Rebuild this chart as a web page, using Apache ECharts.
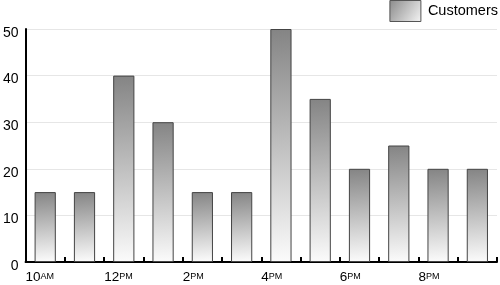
<!DOCTYPE html>
<html><head><meta charset="utf-8">
<script src="https://cdn.jsdelivr.net/npm/echarts@6/dist/echarts.min.js"></script>
<style>html,body{margin:0;padding:0;background:#fff}#c{width:500px;height:285px}</style>
</head><body><div id="c"></div>
<script>
var categories = ['10AM','11AM','12PM','1PM','2PM','3PM','4PM','5PM','6PM','7PM','8PM','9PM'];
var customers = [15,15,40,30,15,15,50,35,20,25,20,20];
var tickLabels = ['10|AM','','12|PM','','2|PM','','4|PM','','6|PM','','8|PM','',''];
var seriesName = 'Customers';

var grad = new echarts.graphic.LinearGradient(0,0,0.25,1,[
  {offset:0,color:'#848484'},{offset:1,color:'#fbfbfb'}]);
var chart = echarts.init(document.getElementById('c'), null, {renderer:'canvas'});
var font = 'Liberation Sans, Arial, Helvetica, sans-serif';
chart.setOption({
  animation:false,
  textStyle:{fontFamily:font},
  grid:{left:23,right:1,top:29,bottom:23},
  legend:{
    show:true, right:2, top:0, padding:0, itemWidth:31, itemHeight:21,
    icon:'rect',
    data:[seriesName],
    textStyle:{fontSize:14.5,color:'#000',fontFamily:font,padding:[5,0,0,2]},
    itemStyle:{color:new echarts.graphic.LinearGradient(0,0,1,1,[{offset:0,color:'#8a8a8a'},{offset:1,color:'#f5f5f5'}]),borderColor:'#555',borderWidth:1}
  },
  xAxis:[{
    type:'category', data:categories, boundaryGap:true,
    axisLine:{lineStyle:{color:'#000',width:2}},
    axisTick:{show:true,inside:true,length:5,interval:0,lineStyle:{color:'#000',width:2}},
    axisLabel:{show:false}, splitLine:{show:false}
  },{
    type:'category', data:tickLabels, boundaryGap:false, position:'bottom',
    axisLine:{show:false}, axisTick:{show:false}, splitLine:{show:false},
    axisLabel:{show:true, interval:0, align:'left', margin:8,
      formatter:function(v){ if(!v) return ''; var p=v.split('|'); return '{n|'+p[0]+'}{s|'+p[1]+'}'; },
      rich:{n:{fontSize:13.5,color:'#000',fontFamily:font},s:{fontSize:9,color:'#000',fontFamily:font}}}
  }],
  yAxis:{
    type:'value', min:0, max:50, interval:10,
    axisLine:{show:true,lineStyle:{color:'#000',width:2}},
    axisTick:{show:false},
    axisLabel:{fontSize:14,color:'#000',margin:7,fontFamily:font,verticalAlign:'top',lineHeight:8},
    splitLine:{show:true,lineStyle:{color:'#e6e6e6',width:1}}
  },
  series:[{
    name:seriesName, type:'bar', data:customers, xAxisIndex:0, barWidth:'54%',
    itemStyle:{color:grad,borderColor:'#444',borderWidth:1}
  }]
});
</script></body></html>
